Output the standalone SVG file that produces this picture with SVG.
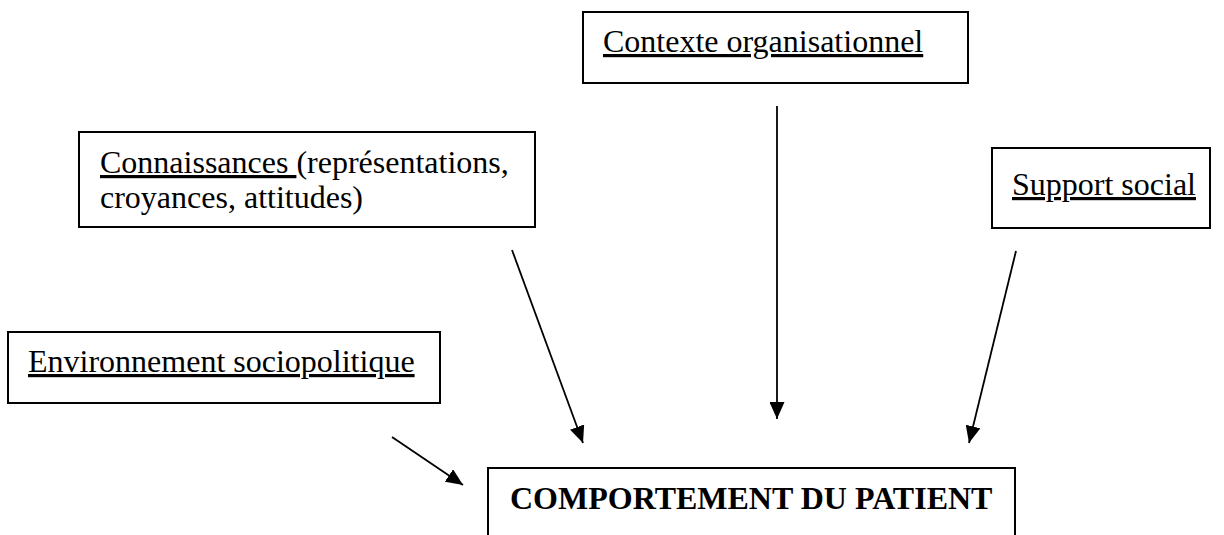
<svg xmlns="http://www.w3.org/2000/svg" width="1224" height="535" viewBox="0 0 1224 535">
<style>
.box{fill:#fff;stroke:#000;stroke-width:2}
.t{font-family:"Liberation Serif","Times New Roman",serif;font-size:32px;fill:#000}
.b{font-weight:bold}
.u{text-decoration:underline}
.c{stroke:#000;stroke-width:1.8;fill:none;marker-end:url(#ah)}
</style>
<defs>
<marker id="ah" markerUnits="userSpaceOnUse" markerWidth="17" markerHeight="15" refX="17" refY="7.5" orient="auto" viewBox="0 0 17 15">
<path d="M0,0 L17,7.5 L0,15 Z" fill="#000"/>
</marker>
</defs>
<rect width="1224" height="535" fill="#fff"/>
<g id="contexte">
<rect class="box" x="583" y="12" width="385" height="71"/>
<text class="t u" x="603" y="52">Contexte organisationnel</text>
</g>
<g id="connaissances">
<rect class="box" x="79" y="132" width="456" height="95"/>
<text class="t" x="100" y="173"><tspan class="u">Connaissances </tspan>(représentations,</text>
<text class="t" x="100" y="208">croyances, attitudes)</text>
</g>
<g id="support">
<rect class="box" x="992" y="148" width="218" height="80"/>
<text class="t u" x="1012" y="195">Support social</text>
</g>
<g id="environnement">
<rect class="box" x="8" y="332" width="432" height="71"/>
<text class="t u" x="28" y="372">Environnement sociopolitique</text>
</g>
<g id="comportement">
<rect class="box" x="488" y="468" width="527" height="100"/>
<text class="t b" x="510" y="509">COMPORTEMENT DU PATIENT</text>
</g>
<g id="connectors">
<line class="c" x1="777" y1="106" x2="777" y2="419"/>
<line class="c" x1="512" y1="250" x2="583" y2="443"/>
<line class="c" x1="1016" y1="251" x2="969" y2="443"/>
<line class="c" x1="392" y1="437" x2="463" y2="485"/>
</g>
</svg>
